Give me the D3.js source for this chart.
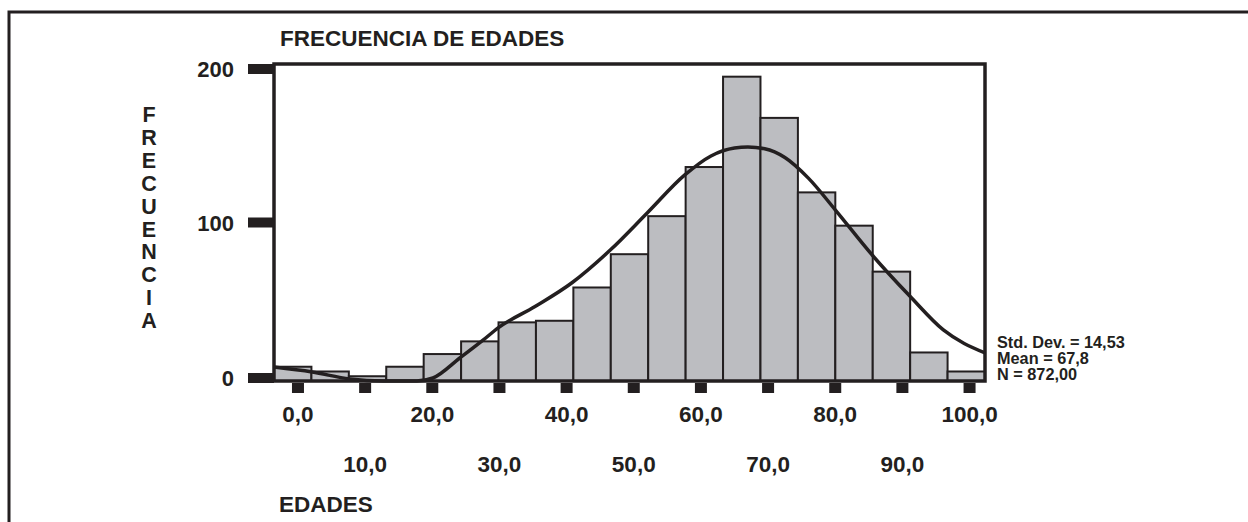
<!DOCTYPE html>
<html>
<head>
<meta charset="utf-8">
<script src="https://cdn.jsdelivr.net/npm/d3@7"></script>
<style>
  body { margin: 0; background: #fff; }
  text { font-family: "Liberation Sans", Arial, sans-serif; font-weight: bold; fill: #231f20; }
</style>
</head>
<body>
<div id="chart"></div>
<script>
// histogram counts, one per bin (19 bins across the plot)
var counts = [9, 6, 3, 9, 17, 25, 37, 38, 59, 80, 104, 135, 192, 166, 119, 98, 69, 18, 6];

// fitted curve: [edad, frecuencia]
var curveAge  = [-3.6, 2.1, 7.7, 12.7, 17.7, 20.1, 24.1, 27.6, 29.8, 35.3, 40.8, 46.5, 52.0, 57.6, 61.5, 65.0, 67.0, 69.5, 72.5, 76.0, 80.0, 85.5, 91.1, 96.1, 102.3];
var curveFreq = [8.8, 5.7, 1.3, 0, 0, 1.9, 14.5, 25.9, 33.5, 47, 62, 82.6, 106, 130, 142, 147, 147.6, 146.5, 141, 128, 108, 79.5, 53.6, 32.2, 17.7];

var xTicks = [0, 10, 20, 30, 40, 50, 60, 70, 80, 90, 100];
var yTicks = [0, 100, 200];
var yLabel = "FRECUENCIA";
var stats = ["Std. Dev. = 14,53", "Mean = 67,8", "N = 872,00"];

var W = 1248, H = 522;
var plot = { left: 274, top: 64, right: 985, bottom: 381 };
var ink = "#231f20";

var svg = d3.select("#chart")
            .append("svg")
            .attr("width", W)
            .attr("height", H);

// outer frame (open at right and bottom)
svg.append("path")
   .attr("d", "M9," + (H + 5) + "V12H" + (W + 5))
   .attr("fill", "none")
   .attr("stroke", ink)
   .attr("stroke-width", 3);

var x = d3.scaleLinear().domain([-3.57, 102.3]).range([plot.left, plot.right]);
var band = d3.scaleBand().domain(d3.range(counts.length)).range([plot.left, plot.right]);
var y = d3.scaleLinear().domain([0, 200]).range([plot.bottom, plot.top]);

// bars
svg.append("g")
   .selectAll("rect")
   .data(counts)
   .join("rect")
   .attr("x", function (d, i) { return band(i); })
   .attr("y", function (d) { return y(d); })
   .attr("width", band.bandwidth())
   .attr("height", function (d) { return y(0) - y(d); })
   .attr("fill", "#bcbdc1")
   .attr("stroke", ink)
   .attr("stroke-width", 2);

// curve
var pts = curveAge.map(function (a, i) { return [x(a), y(curveFreq[i])]; });
svg.append("path")
   .attr("d", d3.line().curve(d3.curveMonotoneX)(pts))
   .attr("fill", "none")
   .attr("stroke", ink)
   .attr("stroke-width", 3.5);

// plot frame
svg.append("rect")
   .attr("x", plot.left)
   .attr("y", plot.top)
   .attr("width", plot.right - plot.left)
   .attr("height", plot.bottom - plot.top)
   .attr("fill", "none")
   .attr("stroke", ink)
   .attr("stroke-width", 3.5);

// y ticks - thick bars left of the frame
yTicks.forEach(function (v) {
  var cy = Math.min(Math.max(y(v), plot.top + 5), plot.bottom - 3);
  svg.append("rect")
     .attr("x", plot.left - 26)
     .attr("y", cy - 5)
     .attr("width", 26)
     .attr("height", 10)
     .attr("fill", ink);

  svg.append("text")
     .attr("x", 234)
     .attr("y", cy + 8)
     .attr("text-anchor", "end")
     .attr("font-size", 22)
     .text(v);
});

// x ticks - small squares under the axis, labels on two rows
xTicks.forEach(function (v, i) {
  svg.append("rect")
     .attr("x", x(v) - 6)
     .attr("y", plot.bottom + 2)
     .attr("width", 12)
     .attr("height", 10)
     .attr("fill", ink);

  svg.append("text")
     .attr("x", x(v))
     .attr("y", i % 2 === 0 ? 422 : 472)
     .attr("text-anchor", "middle")
     .attr("font-size", 22.5)
     .text(d3.format(".1f")(v).replace(".", ","));
});

// titles
svg.append("text")
   .attr("x", 280)
   .attr("y", 46)
   .attr("font-size", 22.5)
   .text("FRECUENCIA DE EDADES");

svg.append("text")
   .attr("x", 279)
   .attr("y", 512)
   .attr("font-size", 22.5)
   .text("EDADES");

// vertical y label, one letter per line
yLabel.split("").forEach(function (ch, i) {
  svg.append("text")
     .attr("x", 149)
     .attr("y", 122 + i * 22.9)
     .attr("text-anchor", "middle")
     .attr("font-size", 21.5)
     .text(ch);
});

// stats
stats.forEach(function (s, i) {
  svg.append("text")
     .attr("x", 997)
     .attr("y", 348 + i * 16)
     .attr("font-size", 16.3)
     .text(s);
});
</script>
</body>
</html>
